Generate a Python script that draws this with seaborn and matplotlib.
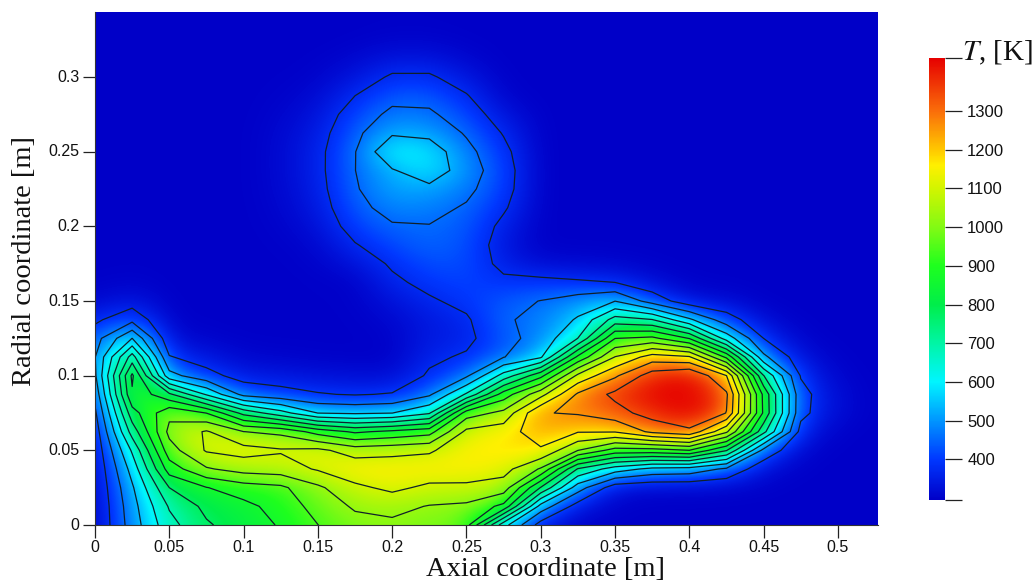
import numpy as np
import pandas as pd
import seaborn as sns
import matplotlib
matplotlib.use('Agg')
import matplotlib.pyplot as plt
from matplotlib.colors import LinearSegmentedColormap, Normalize

# grid of the temperature field
dx = 0.025
dy = 0.0125
x_ticks = [0, 0.05, 0.1, 0.15, 0.2, 0.25, 0.3, 0.35, 0.4, 0.45, 0.5]
x_labels = ['0', '0.05', '0.1', '0.15', '0.2', '0.25', '0.3', '0.35', '0.4', '0.45', '0.5']
y_ticks = [0, 0.05, 0.1, 0.15, 0.2, 0.25, 0.3]
y_labels = ['0', '0.05', '0.1', '0.15', '0.2', '0.25', '0.3']
bar_ticks = [295, 400, 500, 600, 700, 800, 900, 1000, 1100, 1200, 1300, 1437]
bar_labels = ['', '400', '500', '600', '700', '800', '900', '1000', '1100', '1200', '1300', '']
levels = [375, 456, 537, 618, 699, 780, 861, 942, 1023, 1104, 1185, 1266, 1347]

# one list per axial position, radial coordinate going up
c000 = [295, 295, 300, 305, 315, 330, 360, 401, 443, 453, 422, 360, 310, 298, 295, 295, 295, 295, 295, 295, 295, 295, 295, 295, 295, 295, 295, 295]
c025 = [494, 505, 526, 567, 629, 733, 827, 931, 957, 816, 619, 432, 340, 305, 297, 295, 295, 295, 295, 295, 295, 295, 295, 295, 295, 295, 295, 295]
c050 = [671, 707, 780, 899, 988, 1045, 1003, 796, 484, 380, 320, 300, 296, 295, 295, 295, 295, 295, 295, 295, 295, 295, 295, 295, 295, 295, 295, 295]
c075 = [770, 801, 858, 1014, 1112, 1112, 941, 609, 401, 340, 305, 296, 295, 295, 295, 295, 295, 295, 295, 295, 295, 295, 295, 295, 295, 295, 295, 295]
c100 = [822, 837, 905, 1055, 1133, 1024, 754, 432, 345, 310, 297, 295, 295, 295, 295, 295, 295, 295, 295, 295, 295, 295, 295, 295, 295, 295, 295, 295]
c125 = [868, 894, 925, 1066, 1112, 1003, 650, 401, 340, 305, 296, 295, 295, 295, 296, 298, 302, 306, 310, 312, 312, 310, 305, 300, 297, 295, 295, 295]
c150 = [941, 972, 1008, 1112, 1123, 910, 536, 380, 330, 300, 296, 296, 297, 298, 302, 310, 325, 340, 350, 355, 355, 345, 330, 315, 303, 298, 295, 295]
c175 = [993, 1034, 1086, 1159, 1066, 848, 526, 370, 325, 298, 296, 297, 298, 300, 330, 370, 406, 432, 448, 455, 453, 437, 411, 375, 335, 310, 298, 295]
c200 = [1008, 1045, 1123, 1159, 1076, 879, 536, 380, 320, 298, 300, 310, 330, 360, 385, 417, 448, 484, 515, 530, 610, 526, 474, 432, 385, 335, 305, 297]
c225 = [988, 1019, 1086, 1159, 1092, 910, 609, 443, 385, 360, 345, 345, 365, 396, 422, 448, 453, 479, 515, 590, 585, 515, 468, 432, 385, 335, 305, 297]
c250 = [972, 1008, 1086, 1154, 1160, 1123, 983, 629, 443, 385, 355, 365, 396, 411, 422, 427, 437, 448, 474, 494, 479, 448, 417, 380, 340, 310, 298, 295]
c275 = [567, 920, 1066, 1133, 1170, 1150, 1045, 899, 650, 453, 432, 448, 432, 391, 355, 340, 355, 385, 406, 411, 396, 370, 335, 305, 297, 295, 295, 295]
c300 = [340, 505, 775, 1014, 1175, 1227, 1262, 1076, 837, 526, 484, 474, 458, 396, 320, 297, 295, 295, 295, 295, 295, 295, 295, 295, 295, 295, 295, 295]
c325 = [300, 340, 494, 692, 1024, 1190, 1273, 1278, 1123, 879, 619, 546, 494, 385, 315, 297, 295, 295, 295, 295, 295, 295, 295, 295, 295, 295, 295, 295]
c350 = [296, 300, 330, 578, 910, 1190, 1315, 1367, 1253, 1107, 941, 733, 536, 375, 310, 296, 295, 295, 295, 295, 295, 295, 295, 295, 295, 295, 295, 295]
c375 = [295, 296, 315, 515, 910, 1284, 1382, 1430, 1388, 1221, 962, 702, 422, 325, 300, 295, 295, 295, 295, 295, 295, 295, 295, 295, 295, 295, 295, 295]
c400 = [295, 295, 315, 505, 941, 1325, 1437, 1437, 1429, 1195, 858, 552, 330, 300, 295, 295, 295, 295, 295, 295, 295, 295, 295, 295, 295, 295, 295, 295]
c425 = [295, 295, 310, 442, 785, 1118, 1345, 1360, 1268, 925, 583, 411, 320, 297, 295, 295, 295, 295, 295, 295, 295, 295, 295, 295, 295, 295, 295, 295]
c450 = [295, 295, 300, 325, 432, 723, 848, 842, 702, 474, 375, 320, 297, 295, 295, 295, 295, 295, 295, 295, 295, 295, 295, 295, 295, 295, 295, 295]
c475 = [295, 295, 295, 298, 310, 350, 395, 400, 370, 330, 305, 296, 295, 295, 295, 295, 295, 295, 295, 295, 295, 295, 295, 295, 295, 295, 295, 295]
c500 = [295, 295, 295, 295, 295, 300, 315, 315, 305, 298, 295, 295, 295, 295, 295, 295, 295, 295, 295, 295, 295, 295, 295, 295, 295, 295, 295, 295]
c525 = [295, 295, 295, 295, 295, 295, 295, 295, 295, 295, 295, 295, 295, 295, 295, 295, 295, 295, 295, 295, 295, 295, 295, 295, 295, 295, 295, 295]

columns = [c000, c025, c050, c075, c100, c125, c150, c175, c200, c225, c250, c275, c300, c325, c350, c375, c400, c425, c450, c475, c500, c525]

temperature = np.array(columns, dtype=float).T
table = pd.DataFrame(temperature)

vmin, vmax = 295, 1437
stops = [
    (295, '#0000c8'), (400, '#0038ff'), (500, '#0096ff'), (600, '#00f5ff'),
    (700, '#00f5a5'), (800, '#00ee4a'), (900, '#1eff1e'), (1000, '#82fa14'),
    (1100, '#d2f500'), (1160, '#fff000'), (1200, '#ffc800'), (1300, '#fa6e0a'),
    (1437, '#e60000'),
]
cmap = LinearSegmentedColormap.from_list(
    'flame', [((t - vmin) / (vmax - vmin), c) for t, c in stops], N=512)
norm = Normalize(vmin, vmax)

sns.set_theme(style='ticks')
plt.rcParams['font.family'] = ['Liberation Sans', 'DejaVu Sans']

W, H = 1035, 582
fig = plt.figure(figsize=(W / 100, H / 100), dpi=100)
ax = fig.add_axes([95 / W, 1 - 525 / H, (878 - 95) / W, (525 - 12) / H])
cax = fig.add_axes([929 / W, 1 - 500 / H, 16 / W, (500 - 58) / H])

sns.heatmap(table, ax=ax, cbar_ax=cax, cmap=cmap, vmin=vmin, vmax=vmax,
            cbar_kws={'ticks': bar_ticks})

# smooth shading and isolines on top of the cells
ny, nx = temperature.shape
ax.imshow(temperature, extent=(0, nx, 0, ny), origin='lower', aspect='auto',
          interpolation='bicubic', cmap=cmap, norm=norm, zorder=1.5)
ax.contour(np.arange(nx) + 0.5, np.arange(ny) + 0.5, temperature, levels=levels,
           colors='#10202a', linewidths=0.9, zorder=2)

ax.set_xlim(0.5, 0.527 / dx + 0.5)
ax.set_ylim(0.5, 0.3436 / dy + 0.5)
ax.set_xticks([v / dx + 0.5 for v in x_ticks], x_labels, rotation=0)
ax.set_yticks([v / dy + 0.5 for v in y_ticks], y_labels, rotation=0)
ax.tick_params(length=9, width=0.9, color='#222222', labelsize=11.5, pad=2, labelcolor='#111111')

for name in ['top', 'right']:
    ax.spines[name].set_visible(False)
for name in ['left', 'bottom']:
    ax.spines[name].set_visible(True)
    ax.spines[name].set_linewidth(0.8)
    ax.spines[name].set_color('#333333')

fig.text(546 / W, 1 - 569 / H, 'Axial coordinate [m]', family='Liberation Serif', fontsize=20.5,
         ha='center', va='center', color='#111111')
fig.text(25 / W, 1 - 261 / H, 'Radial coordinate [m]', family='Liberation Serif', fontsize=20.5,
         ha='center', va='center', rotation=90, color='#111111')

cax.set_yticks(bar_ticks, bar_labels)
cax.tick_params(length=12, width=0.9, color='#222222', labelsize=12, pad=4, labelcolor='#111111', direction='out')
for spine in cax.spines.values():
    spine.set_visible(False)

fig.text(962 / W, 1 - 53 / H, r'$T$, [K]', family='Liberation Serif', fontsize=21,
         va='center', ha='left', math_fontfamily='stix', color='#111111')

fig.savefig('out.png', dpi=100)
